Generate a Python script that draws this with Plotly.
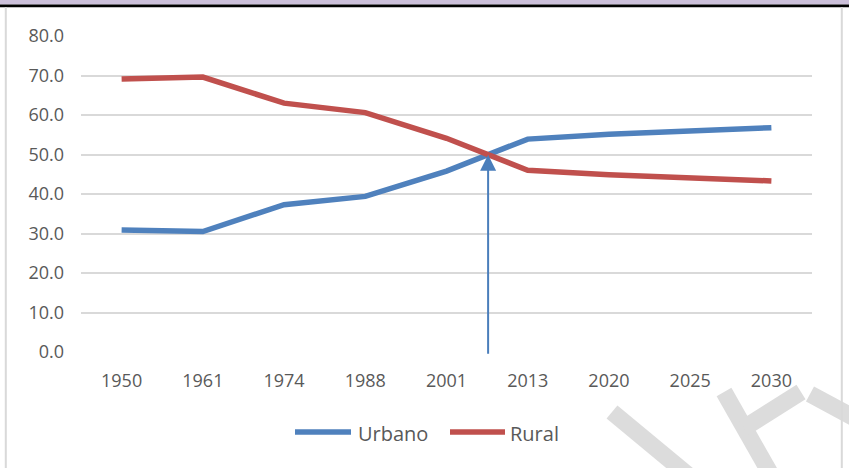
import plotly.graph_objects as go

# ---------------- data ----------------
years = ["1950", "1961", "1974", "1988", "2001", "2013", "2020", "2025", "2030"]
urbano = [30.9, 30.5, 37.3, 39.4, 45.8, 53.9, 55.1, 56.0, 56.8]
rural = [69.1, 69.6, 63.0, 60.6, 54.1, 46.0, 44.9, 44.0, 43.3]
series_names = ["Urbano", "Rural"]
series_colors = ["#4f81bd", "#c0504d"]
y_ticks = [0, 10, 20, 30, 40, 50, 60, 70, 80]

# ---------------- layout geometry (pixels) ----------------
FIG_W, FIG_H = 849, 468
L, R, T, B = 81, 812, 36, 352
PW, PH = R - L, B - T


def px(x):
    return (x - L) / PW


def py(y):
    return (B - y) / PH


# crossing point of the two series (linear interpolation)
cross_x, cross_y = None, None
for i in range(len(years) - 1):
    d0 = urbano[i] - rural[i]
    d1 = urbano[i + 1] - rural[i + 1]
    if d0 < 0 <= d1:
        t = -d0 / (d1 - d0)
        cross_x = i + t
        cross_y = urbano[i] + t * (urbano[i + 1] - urbano[i])
        break

fig = go.Figure()
for name, vals, col in zip(series_names, [urbano, rural], series_colors):
    fig.add_trace(go.Scatter(
        x=years, y=vals, name=name, mode="lines",
        line=dict(color=col, width=5.5),
        showlegend=False,
    ))

font_family = "Open Sans, Liberation Sans, sans-serif"
text_col = "#595959"

shapes = []
# top lavender band and black rule
shapes.append(dict(type="rect", xref="paper", yref="paper",
                   x0=px(-5), x1=px(FIG_W + 5), y0=py(-5), y1=py(4.5),
                   fillcolor="#ccc0da", line=dict(width=0), layer="above"))
shapes.append(dict(type="rect", xref="paper", yref="paper",
                   x0=px(-5), x1=px(FIG_W + 5), y0=py(4.5), y1=py(7.2),
                   fillcolor="#000000", line=dict(width=0), layer="above"))
# chart frame borders
shapes.append(dict(type="line", xref="paper", yref="paper",
                   x0=px(5.8), x1=px(5.8), y0=py(7), y1=py(FIG_H + 5),
                   line=dict(color="#d9d9d9", width=2)))
shapes.append(dict(type="line", xref="paper", yref="paper",
                   x0=px(841.8), x1=px(841.8), y0=py(7), y1=py(FIG_H + 5),
                   line=dict(color="#d9d9d9", width=2)))
# faint watermark strokes
wm = [((612, 412), (694, 480)),
      ((724, 392), (774, 480)),
      ((744, 428), (801, 392)),
      ((810, 394), (862, 422))]
for (x0, y0), (x1, y1) in wm:
    shapes.append(dict(type="line", xref="paper", yref="paper",
                       x0=px(x0), y0=py(y0), x1=px(x1), y1=py(y1),
                       line=dict(color="#dcdcdc", width=17), layer="below"))

# manual legend
legend_items = [(295, 351, 356), (450, 505, 508)]
annotations = []
for (lx0, lx1, tx), name, col in zip(legend_items, series_names, series_colors):
    shapes.append(dict(type="line", xref="paper", yref="paper",
                       x0=px(lx0), x1=px(lx1), y0=py(432), y1=py(432),
                       line=dict(color=col, width=5.5)))
    annotations.append(dict(xref="paper", yref="paper", x=px(tx), y=py(433),
                            xanchor="left", yanchor="middle", showarrow=False,
                            text=name, font=dict(family=font_family, size=20, color=text_col)))

# arrow pointing at crossing point
annotations.append(dict(x=cross_x, y=cross_y, xref="x", yref="y",
                        ax=cross_x, ay=-0.8, axref="x", ayref="y",
                        showarrow=True, arrowhead=2, arrowsize=1.6, arrowwidth=2,
                        arrowcolor="#4a7ebb", text=""))

fig.update_layout(
    width=FIG_W, height=FIG_H,
    margin=dict(l=L, r=FIG_W - R, t=T, b=FIG_H - B, pad=0),
    paper_bgcolor="white", plot_bgcolor="white",
    font=dict(family=font_family, color=text_col, size=18),
    shapes=shapes, annotations=annotations,
    showlegend=False,
)
fig.update_xaxes(
    type="category", range=[-0.5, len(years) - 0.5],
    showgrid=False, showline=False, zeroline=False, ticks="",
    tickfont=dict(size=18, color=text_col), ticklabelstandoff=16,
)
fig.update_yaxes(
    range=[0, 80], tickvals=y_ticks, tickformat=".1f",
    showgrid=True, gridcolor="#d9d9d9", gridwidth=1.5,
    showline=False, zeroline=False, ticks="",
    tickfont=dict(size=18, color=text_col), ticklabelstandoff=16,
)

fig.write_html(
    "out.html",
    config={"displayModeBar": False},
    post_script="document.body.style.margin='0';document.body.style.overflow='hidden';",
)
